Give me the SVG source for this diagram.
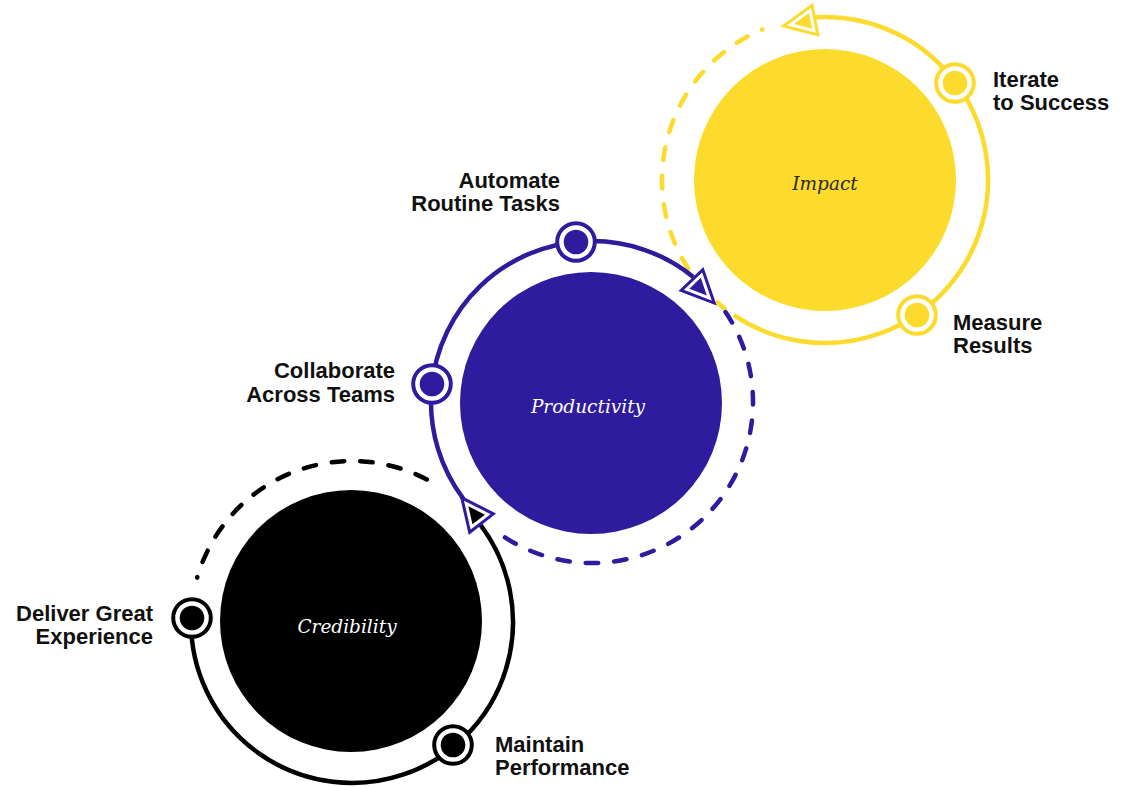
<svg xmlns="http://www.w3.org/2000/svg" width="1124" height="787" viewBox="0 0 1124 787">
<style>
  .lbl{font-family:"Liberation Sans",Arial,sans-serif;font-weight:bold;font-size:22px;fill:#111;}
  .ctr{font-family:"DejaVu Serif",serif;font-style:italic;font-size:18.5px;text-anchor:middle;}
  .ring{fill:none;stroke-width:4.5;}
  .dash{fill:none;stroke-width:4.5;stroke-dasharray:12.5 16;stroke-linecap:round;}
  .mk{fill:#fff;stroke-width:4;}
  .y{stroke:#FCDB2C;} .yf{fill:#FCDB2C;}
  .b{stroke:#2E1B9D;} .bf{fill:#2E1B9D;}
  .k{stroke:#000;} .kf{fill:#000;}
  .ao{fill:#fff;stroke-width:3;stroke-linejoin:miter;}
</style>
<rect width="1124" height="787" fill="#fff"/>

<!-- main nodes -->
<g id="node-impact">
  <circle cx="825" cy="180" r="131" class="yf"/>
  <text x="825" y="190" class="ctr" fill="#2a2a2a">Impact</text>
</g>
<g id="node-productivity">
  <circle cx="591" cy="403" r="131" class="bf"/>
  <text x="588" y="413" class="ctr" fill="#fff">Productivity</text>
</g>
<g id="node-credibility">
  <circle cx="351" cy="621" r="131" class="kf"/>
  <text x="347" y="633" class="ctr" fill="#fff">Credibility</text>
</g>

<!-- connectors -->
<g id="connectors">
  <!-- yellow ring -->
  <path class="ring y" d="M 814.8 17.3 A 163 163 0 1 1 733.9 315.1"/>
  <path class="dash y" stroke-dashoffset="12" d="M 762.4 29.5 A 163 163 0 0 0 724.6 308.4"/>
  <!-- blue ring -->
  <path class="ring b" d="M 463.4 498.9 A 161 161 0 0 1 693.3 276.9"/>
  <path class="dash b" d="M 725.5 312 A 161 161 0 0 1 502 535.5"/>
  <!-- black ring -->
  <path class="ring k" d="M 479.9 524.2 A 161 161 0 1 1 191 622"/>
  <path class="dash k" stroke-dashoffset="12" d="M 197.2 577.6 A 161 161 0 0 1 437.3 485.5"/>
  <!-- arrowheads -->
  <g id="arrow-yellow" transform="translate(802.2 22.5) rotate(169)">
    <polygon class="ao y" points="19,0 -13,-15 -13,15"/>
    <polygon class="yf" points="8.4,0 -8.5,-7.9 -8.5,7.9"/>
  </g>
  <g id="arrow-blue" transform="translate(701 289.4) rotate(46)">
    <polygon class="ao b" points="19,0 -13,-15 -13,15"/>
    <polygon class="bf" points="8.4,0 -8.5,-7.9 -8.5,7.9"/>
  </g>
  <g id="arrow-black" transform="translate(473.5 512.8) rotate(-128)">
    <polygon class="ao b" points="19,0 -13,-15 -13,15"/>
    <polygon class="kf" points="8.4,0 -8.5,-7.9 -8.5,7.9"/>
  </g>
</g>

<!-- step nodes -->
<g id="node-iterate">
  <circle cx="955" cy="83" r="18.8" class="mk y"/>
  <circle cx="955" cy="83" r="12.3" class="yf"/>
  <text class="lbl" x="993" y="87">Iterate<tspan x="993" dy="23">to Success</tspan></text>
</g>
<g id="node-measure">
  <circle cx="917" cy="315" r="18.8" class="mk y"/>
  <circle cx="917" cy="315" r="12.3" class="yf"/>
  <text class="lbl" x="953" y="330">Measure<tspan x="953" dy="23">Results</tspan></text>
</g>
<g id="node-automate">
  <circle cx="576" cy="242" r="18.8" class="mk b"/>
  <circle cx="576" cy="242" r="12.3" class="bf"/>
  <text class="lbl" x="560" y="188" text-anchor="end">Automate<tspan x="560" dy="23">Routine Tasks</tspan></text>
</g>
<g id="node-collaborate">
  <circle cx="432" cy="384" r="18.8" class="mk b"/>
  <circle cx="432" cy="384" r="12.3" class="bf"/>
  <text class="lbl" x="395" y="378" text-anchor="end">Collaborate<tspan x="395" dy="24">Across Teams</tspan></text>
</g>
<g id="node-deliver">
  <circle cx="192" cy="618" r="18.8" class="mk k"/>
  <circle cx="192" cy="618" r="12.3" class="kf"/>
  <text class="lbl" x="153" y="621" text-anchor="end">Deliver Great<tspan x="153" dy="23">Experience</tspan></text>
</g>
<g id="node-maintain">
  <circle cx="453" cy="745" r="18.8" class="mk k"/>
  <circle cx="453" cy="745" r="12.3" class="kf"/>
  <text class="lbl" x="495" y="752">Maintain<tspan x="495" dy="23">Performance</tspan></text>
</g>
</svg>
